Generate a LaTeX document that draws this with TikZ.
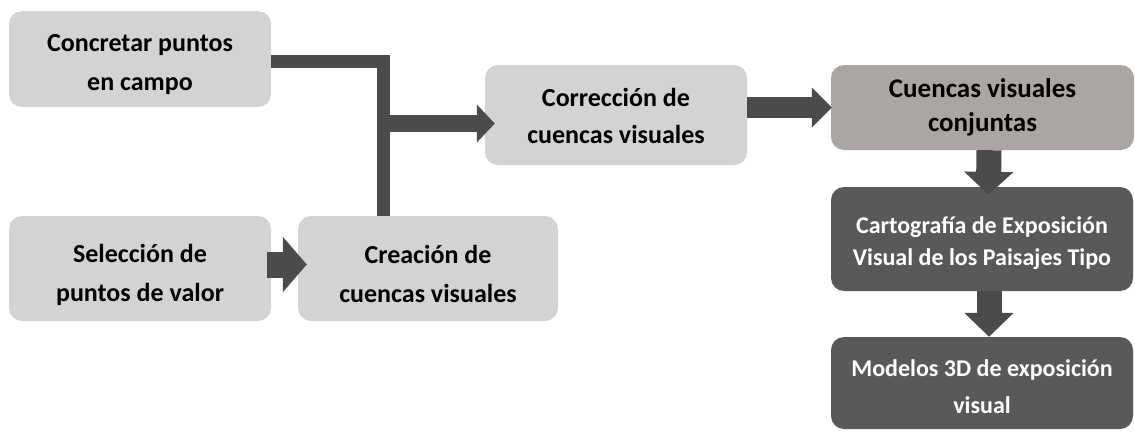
\documentclass[tikz,border=0pt]{standalone}
\usepackage{fontspec}
\setmainfont{Carlito}
\usetikzlibrary{arrows.meta,calc}
\definecolor{lightbox}{HTML}{D3D3D3}
\definecolor{midbox}{HTML}{ABA6A4}
\definecolor{darkbox}{HTML}{595959}
\definecolor{arrowgray}{HTML}{4B4B4B}
% first-line strut: pushes the text block down by half of the extra height
\newcommand{\firstup}[1]{\rule{0pt}{#1}}
\begin{document}
\begin{tikzpicture}[x=1pt,y=-1pt,
  boxbase/.style={rectangle, rounded corners=13pt, inner sep=0pt, align=center, font=\bfseries},
  lbox/.style={boxbase, fill=lightbox, text=black},
  mbox/.style={boxbase, fill=midbox, text=black},
  dbox/.style={boxbase, fill=darkbox, text=white},
  bigfont/.style={font=\bfseries\fontsize{26}{39}\selectfont},
  barline/.style={draw=arrowgray, line width=13pt, line join=miter},
  blockarrow/.style n args={3}{draw=arrowgray, fill=arrowgray, line width=#1,
     -{Triangle[width=#2, length=#3]}}
]
\useasboundingbox (0,0) rectangle (1135,431);

% boxes
\node[lbox, bigfont, minimum width=262pt, minimum height=96pt] (con) at (140,59)
  {\firstup{29pt}Concretar puntos\\en campo};
\node[lbox, bigfont, minimum width=262pt, minimum height=105pt] (sel) at (140,268.5)
  {\firstup{32pt}Selección de\\puntos de valor};
\node[lbox, bigfont, minimum width=260pt, minimum height=105pt] (cre) at (428,268.5)
  {\firstup{29pt}Creación de\\cuencas visuales};
\node[lbox, font=\bfseries\fontsize{26}{37}\selectfont, minimum width=262pt, minimum height=100pt] (cor) at (616,115)
  {\firstup{21pt}Corrección de\\cuencas visuales};
\node[mbox, font=\bfseries\fontsize{27}{34}\selectfont, minimum width=303pt, minimum height=85pt] (cue) at (982.5,107.5)
  {Cuencas visuales\\conjuntas};
\node[dbox, font=\bfseries\fontsize{24}{32}\selectfont, minimum width=302pt, minimum height=104pt] (car) at (982,239)
  {\firstup{25pt}Cartografía de Exposición\\Visual de los Paisajes Tipo};
\node[dbox, font=\bfseries\fontsize{24}{37}\selectfont, minimum width=302pt, minimum height=92pt] (mod) at (982,383)
  {\firstup{25pt}Modelos 3D de exposición\\visual};

% elbow connector
\coordinate (elb) at (383,61.5);
\coordinate (mid) at (383,123.5);
\draw[barline] (con.east |- elb) -- (elb) -- (elb |- cre.north);
\draw[blockarrow={17pt}{37pt}{18pt}, shorten >=-10pt] (mid) -- (mid -| cor.west);

% other arrows
\draw[blockarrow={26pt}{54pt}{24pt}, shorten >=-9pt, shorten <=-4pt] ([yshift=4pt]sel.east) -- ([yshift=4pt]cre.west);
\draw[blockarrow={21pt}{39pt}{20pt}, shorten >=-1pt] (cor.east |- cue.west) -- (cue.west);
\draw[blockarrow={25pt}{48pt}{23pt}, shorten >=-8pt] ([xshift=6.5pt]cue.south) -- ([xshift=6.5pt]car.north);
\draw[blockarrow={25pt}{48pt}{24pt}] ([xshift=7pt]car.south) -- ([xshift=7pt]mod.north);
\end{tikzpicture}
\end{document}
